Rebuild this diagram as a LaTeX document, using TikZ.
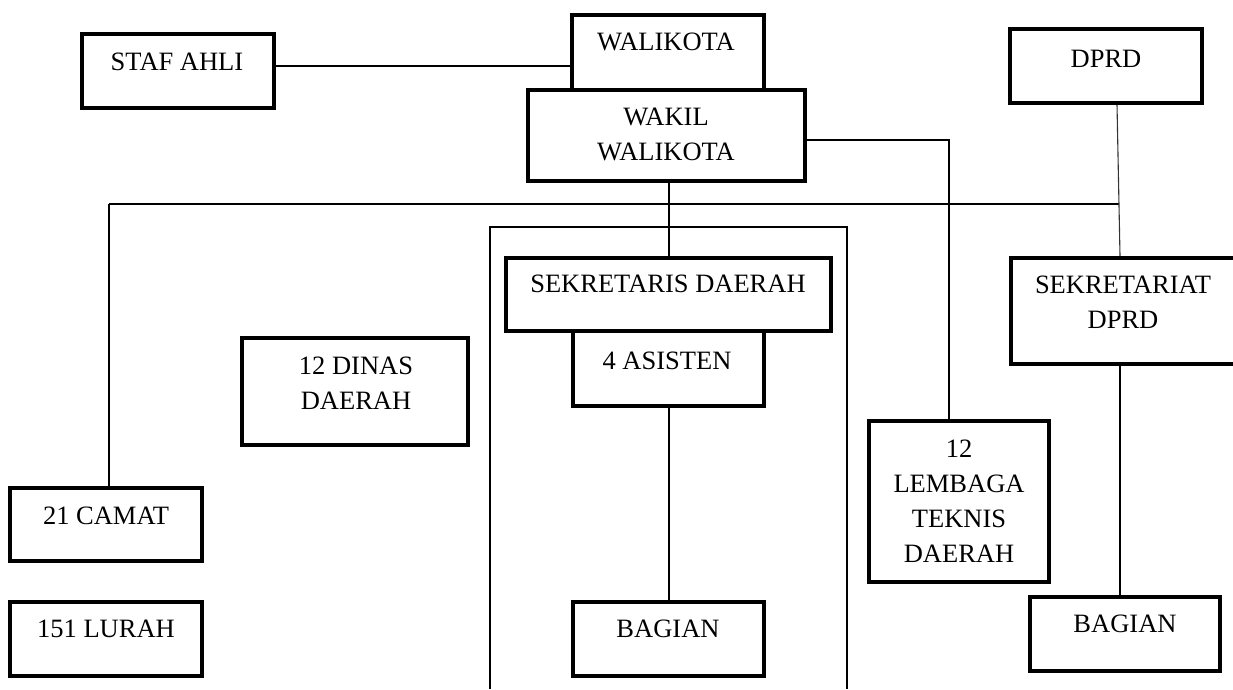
\documentclass[tikz,border=0pt]{standalone}
\usepackage{fontspec}
\setmainfont{Liberation Serif}
\usetikzlibrary{calc}
\begin{document}
\begin{tikzpicture}[x=1pt,y=-1pt,
  box/.style={draw=black, line width=4pt, rectangle, inner sep=0pt},
  txt/.style={font=\fontsize{26.5}{35}\selectfont, align=center, anchor=north, inner sep=0pt},
  conn/.style={draw=black, line width=1.5pt},
  thinconn/.style={draw=black!80, line width=1.1pt}]
\useasboundingbox (0,0) rectangle (1233,689);
% frame around secretariat
\draw[line width=1.5pt] (490,689) -- (490,227) -- (847,227) -- (847,689);
% boxes
\node[box, minimum width=192pt, minimum height=74pt] (staf) at (178,71) {};
\node[box, minimum width=192pt, minimum height=75pt] (walikota) at (668,52.5) {};
\node[box, minimum width=277pt, minimum height=91pt] (wakil) at (666.5,135.5) {};
\node[box, minimum width=192pt, minimum height=74pt] (dprd) at (1106,66) {};
\node[box, minimum width=325pt, minimum height=73pt] (sekda) at (668.5,294.5) {};
\node[box, minimum width=191pt, minimum height=75pt] (asisten) at (668.5,368.5) {};
\node[box, minimum width=191pt, minimum height=74pt] (bagian1) at (668.5,639) {};
\node[box, minimum width=226pt, minimum height=107pt] (dinas) at (355,391.5) {};
\node[box, minimum width=192pt, minimum height=73pt] (camat) at (106,524.5) {};
\node[box, minimum width=192pt, minimum height=74pt] (lurah) at (106,639) {};
\node[box, minimum width=180pt, minimum height=161pt] (lembaga) at (959,501.5) {};
\node[box, minimum width=224pt, minimum height=106pt] (sekdprd) at (1123,311) {};
\node[box, minimum width=190pt, minimum height=74pt] (bagian2) at (1125,634) {};
% texts
\node[txt] (staf-t) at (177,53) {STAF AHLI};
\node[txt] (walikota-t) at (666,33) {WALIKOTA};
\node[txt] (wakil-t) at (666,108) {WAKIL\\WALIKOTA};
\node[txt] (dprd-t) at (1106,50) {DPRD};
\node[txt] (sekda-t) at (668,275) {SEKRETARIS DAERAH};
\node[txt] (asisten-t) at (667,352) {4 ASISTEN};
\node[txt] (bagian1-t) at (668,620) {BAGIAN};
\node[txt] (dinas-t) at (356,357) {12 DINAS\\DAERAH};
\node[txt] (camat-t) at (106,507) {21 CAMAT};
\node[txt] (lurah-t) at (106,620) {151 LURAH};
\node[txt] (lembaga-t) at (959,440) {12\\LEMBAGA\\TEKNIS\\DAERAH};
\node[txt] (sekdprd-t) at (1123,276) {SEKRETARIAT\\DPRD};
\node[txt] (bagian2-t) at (1125,615) {BAGIAN};
% connector helper coordinates
\coordinate (hl) at (109,204);
\coordinate (hr) at (1119,204);
\coordinate (vx) at (669,0);
\coordinate (lx) at (949,140);
\coordinate (dx) at (1120,0);
% connectors
\draw[conn] (staf.east |- 0,66) -- (walikota.west |- 0,66);
\draw[conn] (hl) -- (hr);
\draw[conn] (hl) -- (hl |- camat.north);
\draw[conn] (wakil.south -| vx) -- (sekda.north -| vx);
\draw[conn] (wakil.east |- lx) -- (lx) -- (lx |- lembaga.north);
\draw[thinconn] ($(dprd.south)+(11,0)$) -- ($(sekdprd.north)+(-3,0)$);
\draw[conn] (asisten.south -| vx) -- (bagian1.north -| vx);
\draw[conn] (sekdprd.south -| dx) -- (bagian2.north -| dx);
\end{tikzpicture}
\end{document}
